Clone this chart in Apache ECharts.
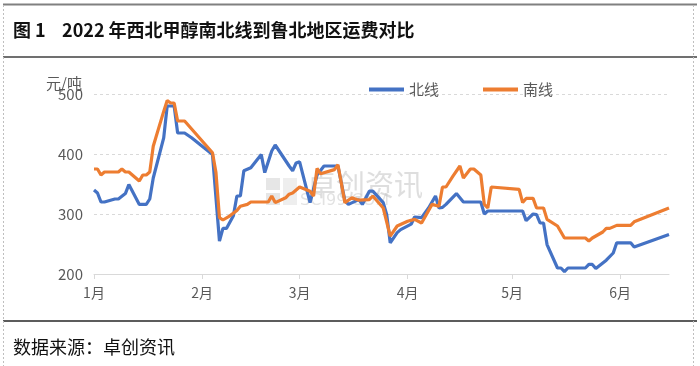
<!DOCTYPE html>
<html><head><meta charset="utf-8">
<script src="https://cdn.jsdelivr.net/npm/echarts@6/dist/echarts.min.js"></script>
<style>html,body{margin:0;padding:0;background:#fff}#c{width:700px;height:366px}</style>
</head><body><div id="c"></div>
<script>
const YEAR = '2022-';
const northDates = ['01-01','01-02','01-03','01-04','01-07','01-08','01-10','01-11','01-14','01-16','01-17','01-18','01-21','01-22','01-24','01-25','01-27','01-29','02-04','02-06','02-07','02-08','02-10','02-11','02-12','02-13','02-15','02-18','02-19','02-21','02-22','02-26','02-27','02-28','03-01','03-04','03-06','03-08','03-12','03-14','03-15','03-18','03-19','03-21','03-22','03-25','03-26','03-27','03-29','03-30','04-02','04-03','04-05','04-07','04-09','04-10','04-11','04-12','04-15','04-17','04-22','04-23','04-24','05-04','05-05','05-07','05-08','05-09','05-10','05-11','05-14','05-15','05-16','05-17','05-22','05-23','05-24','05-25','05-28','05-30','05-31','06-04','06-05','06-15'];
const northValues = [340,335,320,320,325,325,334,349,316,316,325,360,427,480,480,435,435,427,399,255,276,276,297,330,330,372,377,399,369,405,415,380,372,385,387,319,365,380,380,322,316,324,316,338,338,319,299,252,269,274,283,295,294,310,330,310,311,316,334,320,320,300,305,305,289,300,299,285,285,249,210,210,204,210,210,216,216,209,223,235,252,252,245,266];
const southDates = ['01-01','01-02','01-03','01-04','01-08','01-09','01-10','01-11','01-14','01-15','01-16','01-17','01-18','01-21','01-22','01-23','01-24','01-25','01-27','02-04','02-05','02-06','02-07','02-09','02-11','02-12','02-14','02-15','02-20','02-21','02-22','02-25','02-26','02-27','03-01','03-04','03-05','03-06','03-07','03-11','03-12','03-14','03-16','03-18','03-21','03-22','03-25','03-27','03-29','04-01','04-03','04-05','04-08','04-10','04-11','04-12','04-14','04-16','04-17','04-19','04-20','04-22','04-23','04-24','04-25','05-03','05-04','05-05','05-07','05-08','05-10','05-11','05-14','05-16','05-22','05-23','05-24','05-27','05-28','05-29','05-31','06-04','06-05','06-15'];
const southValues = [375,375,365,370,370,375,370,370,355,365,365,370,413,471,489,485,485,455,455,402,369,294,290,297,306,313,316,320,320,330,319,327,333,335,345,338,330,376,367,374,382,319,327,323,324,330,310,263,280,288,291,285,316,313,345,345,363,380,360,375,375,365,316,310,345,341,319,326,326,310,310,291,280,260,260,255,260,270,276,276,281,281,287,310];
const seriesNames = ['北线','南线'];
const monthTicks = ['01-01','02-01','03-01','04-01','05-01','06-01'];
const monthLabels = ['1月','2月','3月','4月','5月','6月'];
const xRange = ['01-01','06-15'];
const yTicks = [200,300,400,500];

const FONT = '"Noto Sans CJK SC","Noto Sans",sans-serif';
const toTs = s => Date.UTC(2022, +s.slice(0, 2) - 1, +s.slice(3, 5));
const tickTs = monthTicks.map(toTs);
const pair = (d, v) => d.map((x, i) => [toTs(x), v[i]]);

const chart = echarts.init(document.getElementById('c'), null, {renderer: 'canvas'});
chart.setOption({
  animation: false,
  textStyle: {fontFamily: FONT},
  grid: {left: 94, right: 31, top: 94, bottom: 92, containLabel: false},
  legend: {
    data: seriesNames, left: 364, top: 77, icon: 'rect', itemWidth: 35, itemHeight: 4, itemGap: 44,
    textStyle: {fontSize: 15, color: '#595959', fontFamily: FONT}
  },
  xAxis: {
    type: 'value', min: toTs(xRange[0]), max: toTs(xRange[1]),
    axisLine: {lineStyle: {color: '#D9D9D9', width: 1}},
    axisTick: {show: true, length: 5, lineStyle: {color: '#D9D9D9'}, customValues: tickTs},
    axisLabel: {
      customValues: tickTs, fontSize: 14, color: '#595959', margin: 12, fontFamily: FONT,
      showMinLabel: true, showMaxLabel: true,
      formatter: v => { const i = tickTs.indexOf(v); return i >= 0 ? monthLabels[i] : ''; }
    },
    splitLine: {show: false}
  },
  yAxis: {
    type: 'value', min: yTicks[0], max: yTicks[yTicks.length - 1], interval: 100,
    axisLine: {show: false}, axisTick: {show: false},
    axisLabel: {fontSize: 15, color: '#595959', margin: 11, fontFamily: FONT},
    splitLine: {lineStyle: {color: '#D9D9D9', type: [3, 3], width: 1}}
  },
  graphic: [
    {type: 'text', left: 307, top: 170, z: 0, style: {text: '卓创资讯', font: '29px ' + FONT, fill: 'rgba(190,190,190,0.5)'}},
    {type: 'text', left: 300, top: 193, z: 0, style: {text: 'SCI99.COM', font: '16px "DejaVu Sans"', fill: 'rgba(190,190,190,0.45)'}},
    {type: 'rect', left: 266, top: 178, z: 0, shape: {width: 14, height: 12}, style: {fill: 'rgba(200,200,200,0.45)'}},
    {type: 'rect', left: 266, top: 193, z: 0, shape: {width: 14, height: 12}, style: {fill: 'rgba(200,200,200,0.45)'}},
    {type: 'rect', left: 283, top: 178, z: 0, shape: {width: 14, height: 27}, style: {fill: 'rgba(200,200,200,0.3)'}},
    {type: 'text', left: 46, top: 76, style: {text: '元/吨', font: '15px ' + FONT, fill: '#595959'}},
    {type: 'text', left: 13, top: 21, style: {text: '图 1    2022 年西北甲醇南北线到鲁北地区运费对比', font: 'bold 18px ' + FONT, fill: '#111'}},
    {type: 'text', left: 13, top: 338, style: {text: '数据来源：卓创资讯', font: '18px ' + FONT, fill: '#111'}},
    {type: 'line', shape: {x1: 3, y1: 4.5, x2: 697, y2: 4.5}, style: {stroke: '#808080', lineWidth: 2}},
    {type: 'line', shape: {x1: 3, y1: 57, x2: 697, y2: 57}, style: {stroke: '#404040', lineWidth: 1.5}},
    {type: 'line', shape: {x1: 3, y1: 321, x2: 697, y2: 321}, style: {stroke: '#262626', lineWidth: 1.5}},
    {type: 'line', shape: {x1: 3.5, y1: 5, x2: 3.5, y2: 366}, style: {stroke: '#bfbfbf', lineWidth: 1, lineDash: [2, 2]}},
    {type: 'line', shape: {x1: 693.5, y1: 5, x2: 693.5, y2: 366}, style: {stroke: '#bfbfbf', lineWidth: 1, lineDash: [2, 2]}}
  ],
  series: [
    {name: seriesNames[0], type: 'line', data: pair(northDates, northValues), symbol: 'none', z: 3,
     lineStyle: {color: '#4472C4', width: 3.2}, itemStyle: {color: '#4472C4'}},
    {name: seriesNames[1], type: 'line', data: pair(southDates, southValues), symbol: 'none', z: 4,
     lineStyle: {color: '#ED7D31', width: 3.2}, itemStyle: {color: '#ED7D31'}}
  ]
});
</script></body></html>
